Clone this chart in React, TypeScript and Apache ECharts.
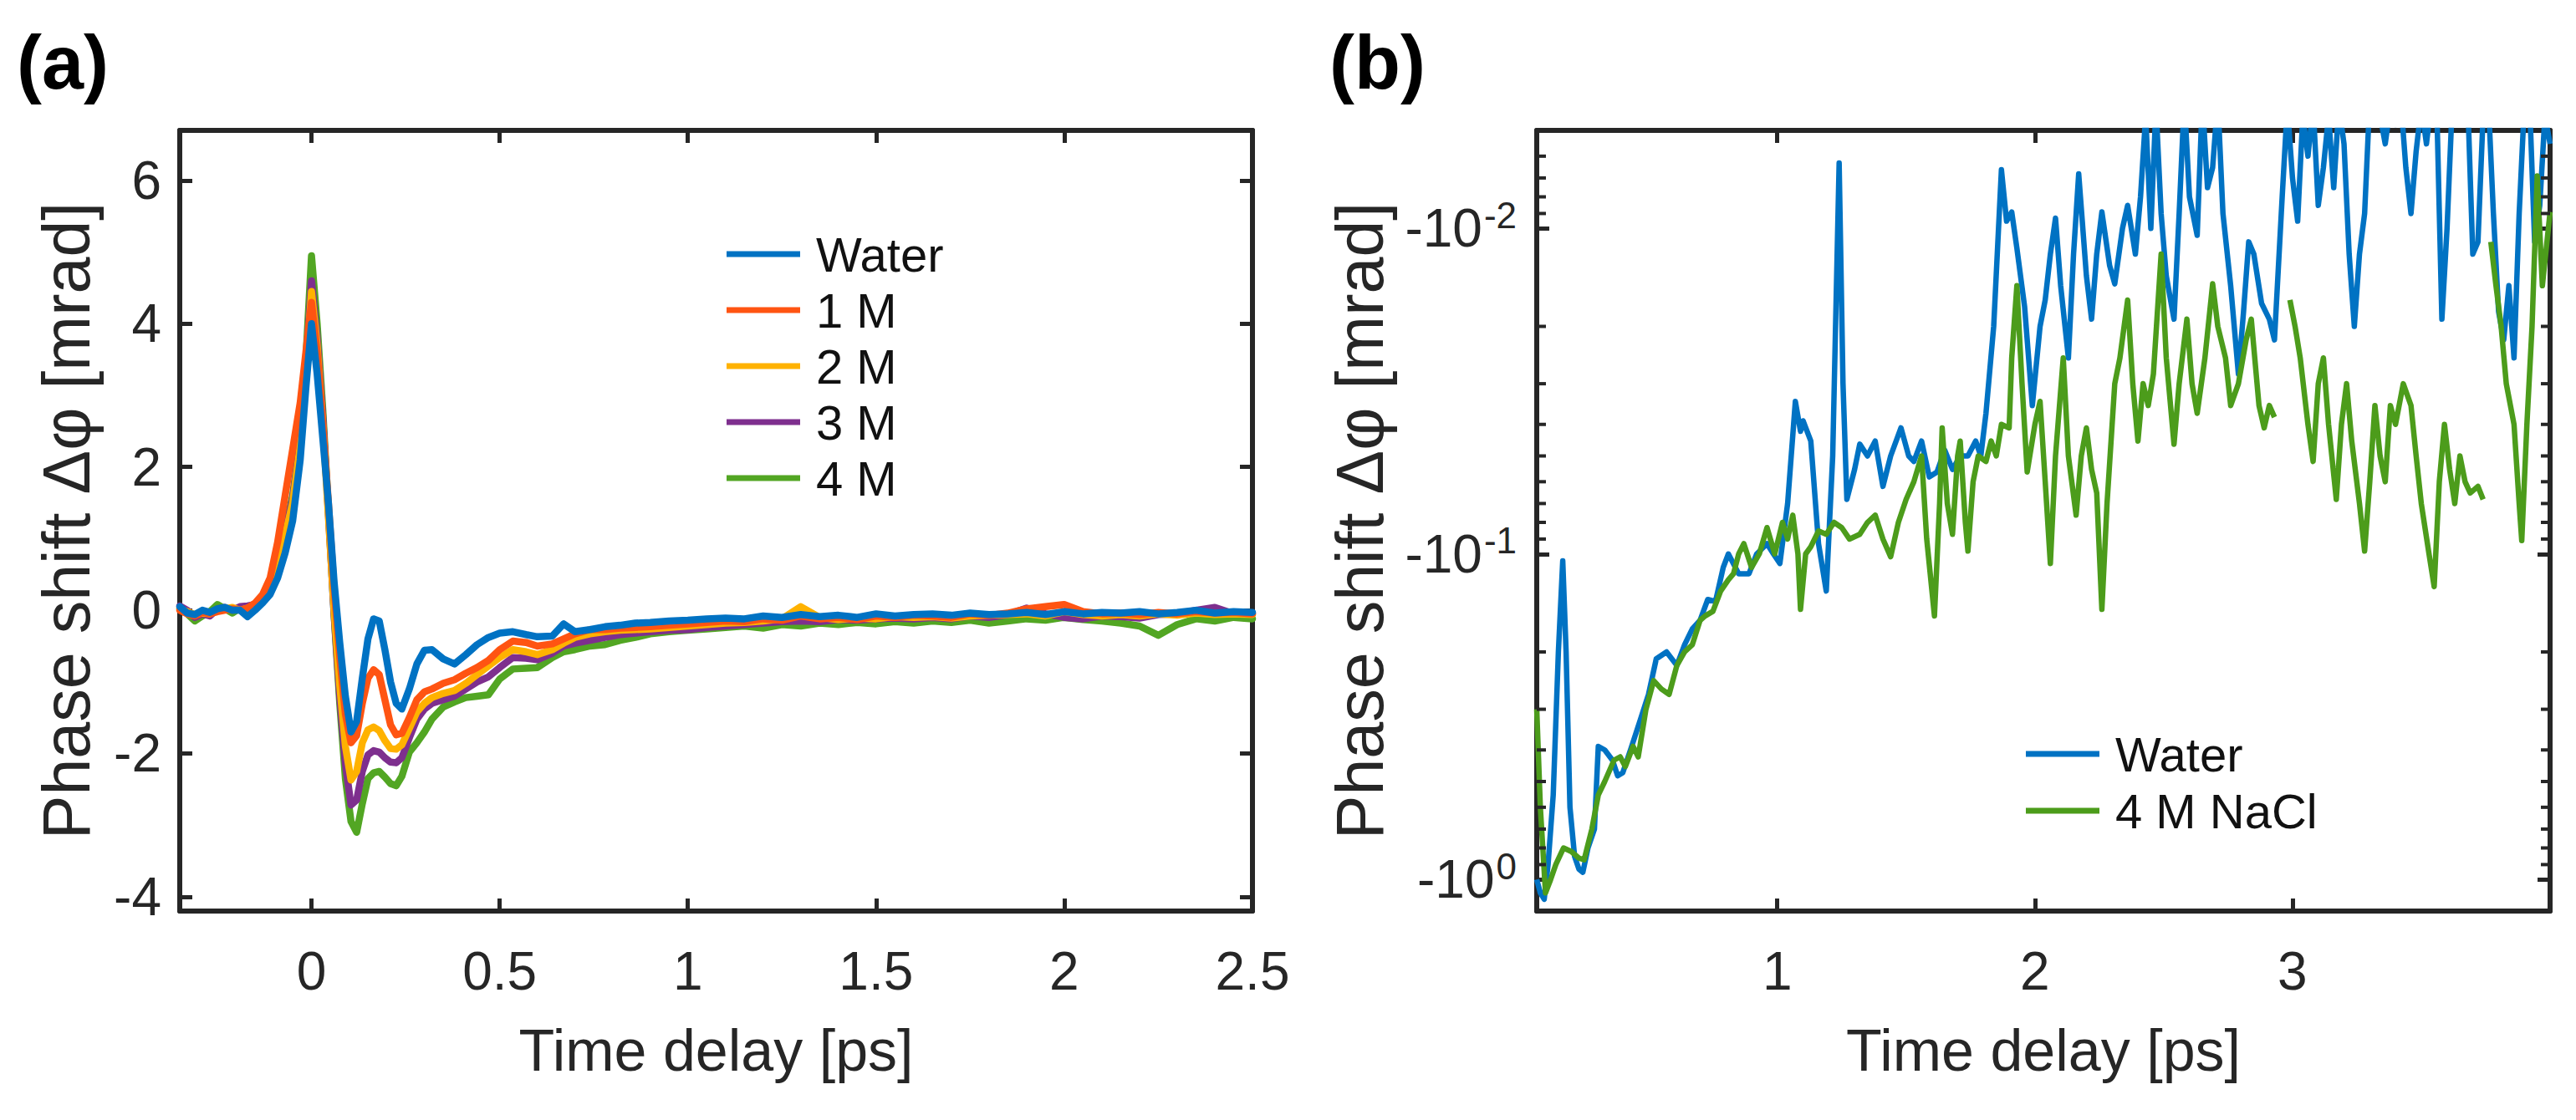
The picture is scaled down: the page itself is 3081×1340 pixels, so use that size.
import React, { useEffect, useRef } from "react";
import * as echarts from "echarts";

const FONT = '"Liberation Sans", Arial, Helvetica, sans-serif';
const INK = "#262626";

// ---------- Panel (a): phase shift vs time delay ----------
const T_A = [
  -0.35, -0.33, -0.31, -0.29, -0.27, -0.25, -0.23, -0.21, -0.19, -0.17,
  -0.15, -0.13, -0.11, -0.09, -0.07, -0.05, -0.03, -0.015, 0, 0.015,
  0.03, 0.045, 0.06, 0.075, 0.09, 0.105, 0.12, 0.135, 0.15, 0.165,
  0.18, 0.195, 0.21, 0.225, 0.24, 0.26, 0.28, 0.3, 0.32, 0.35,
  0.38, 0.41, 0.44, 0.47, 0.5, 0.535, 0.57, 0.6, 0.64, 0.67,
  0.7, 0.74, 0.78, 0.82, 0.86, 0.9, 0.95, 1.0, 1.05, 1.1,
  1.15, 1.2, 1.25, 1.3, 1.35, 1.4, 1.45, 1.5, 1.55, 1.6,
  1.65, 1.7, 1.75, 1.8, 1.85, 1.9, 1.95, 2.0, 2.05, 2.1,
  2.15, 2.2, 2.25, 2.3, 2.35, 2.4, 2.45, 2.5,
];

const WATER_A = [
  0.05, -0.04, -0.06, 0.0, -0.03, 0.02, 0.04, 0.0, 0.0, -0.09,
  0.0, 0.1, 0.22, 0.45, 0.8, 1.25, 2.1, 3.1, 4.0, 3.3,
  2.4, 1.5, 0.4, -0.45, -1.2, -1.7, -1.55, -0.95, -0.4, -0.12,
  -0.15, -0.55, -1.0, -1.3, -1.38, -1.1, -0.75, -0.56, -0.55, -0.68,
  -0.75, -0.62, -0.48, -0.38, -0.32, -0.3, -0.34, -0.37, -0.36, -0.19,
  -0.3, -0.27, -0.23, -0.21, -0.18, -0.17, -0.15, -0.14, -0.12, -0.11,
  -0.12, -0.08, -0.1, -0.06, -0.09, -0.07, -0.1, -0.05, -0.08, -0.06,
  -0.05, -0.07, -0.04, -0.06, -0.05, -0.03, -0.06, -0.02, -0.05, -0.03,
  -0.04, -0.02, -0.05, -0.03, 0.0, -0.04, -0.02, -0.03,
];

const M1_A = [
  0.0, -0.05, -0.08, -0.03, -0.05, -0.02, 0.0, 0.02, 0.0, 0.03,
  0.1, 0.22, 0.45, 0.95, 1.6, 2.25, 2.9, 3.6, 4.3, 3.6,
  2.6, 1.5, 0.3, -0.65, -1.45, -1.85, -1.75, -1.3, -0.95, -0.83,
  -0.9, -1.25, -1.6, -1.74, -1.72, -1.5, -1.25, -1.14, -1.1, -1.02,
  -0.97, -0.88, -0.8, -0.7, -0.55, -0.43, -0.45, -0.5, -0.47, -0.4,
  -0.33, -0.27, -0.27, -0.25, -0.24, -0.23, -0.21, -0.19, -0.17, -0.15,
  -0.16, -0.12, -0.14, -0.08, -0.12, -0.1, -0.13, -0.08, -0.1, -0.07,
  -0.08, -0.1, -0.05, -0.07, -0.04, 0.02, 0.05, 0.08, -0.02, -0.05,
  -0.04, -0.06, -0.03, -0.05, -0.02, -0.04, -0.03, -0.05,
];

const M2_A = [
  0.02, -0.02, -0.06, -0.04, -0.05, 0.0, 0.02, 0.04, 0.0, 0.03,
  0.06, 0.15, 0.3, 0.65, 1.05, 1.5, 2.3, 3.3, 4.45, 3.7,
  2.6, 1.3, 0.0, -1.05, -1.9, -2.37, -2.25, -1.85, -1.67, -1.63,
  -1.68, -1.82, -1.93, -1.94, -1.88, -1.65, -1.42, -1.3, -1.22, -1.16,
  -1.12, -1.02, -0.9, -0.78, -0.66, -0.55, -0.58, -0.62, -0.55, -0.46,
  -0.38, -0.33, -0.3, -0.28, -0.27, -0.26, -0.24, -0.22, -0.2, -0.18,
  -0.17, -0.15, -0.12, 0.05, -0.1, -0.13, -0.11, -0.12, -0.09, -0.1,
  -0.09, -0.11, -0.08, -0.07, -0.06, -0.05, -0.08, -0.02, -0.06, -0.08,
  -0.06, -0.08, -0.05, -0.07, -0.04, -0.06, -0.05, -0.06,
];

const M3_A = [
  0.06, 0.0, -0.1, -0.05, -0.08, 0.02, 0.04, 0.0, 0.05, 0.06,
  0.08, 0.16, 0.32, 0.7, 1.1, 1.55, 2.35, 3.4, 4.6, 3.8,
  2.7, 1.35, -0.05, -1.2, -2.15, -2.72, -2.65, -2.25, -2.02, -1.96,
  -1.98, -2.06, -2.12, -2.13, -2.06, -1.78, -1.52, -1.38, -1.3, -1.25,
  -1.2, -1.1, -1.0, -0.93, -0.8, -0.66, -0.67, -0.69, -0.6, -0.5,
  -0.46, -0.42, -0.38, -0.34, -0.32, -0.3, -0.28, -0.27, -0.24, -0.22,
  -0.2, -0.18, -0.16, -0.15, -0.16, -0.13, -0.14, -0.12, -0.11, -0.12,
  -0.1, -0.12, -0.08, -0.1, -0.06, 0.03, -0.05, -0.1, -0.12, -0.08,
  -0.09, -0.11, -0.06, -0.05, 0.0, 0.04, -0.05, -0.04,
];

const M4_A = [
  0.03, -0.05, -0.15, -0.08, -0.02, 0.08, 0.02, -0.04, 0.03, 0.05,
  0.08, 0.17, 0.35, 0.72, 1.12, 1.6, 2.4, 3.5, 4.95, 4.0,
  2.8, 1.4, -0.05, -1.3, -2.35, -2.95, -3.1, -2.7, -2.35, -2.27,
  -2.25, -2.33, -2.42, -2.45, -2.32, -1.98, -1.85, -1.7, -1.52, -1.35,
  -1.28, -1.22, -1.2, -1.18, -0.96, -0.82, -0.81, -0.8, -0.66, -0.58,
  -0.55, -0.5, -0.48, -0.42, -0.38, -0.33, -0.3, -0.28, -0.26, -0.24,
  -0.22, -0.25, -0.2, -0.22, -0.18, -0.2, -0.17, -0.19, -0.16, -0.18,
  -0.15, -0.17, -0.14, -0.18, -0.15, -0.12, -0.14, -0.1, -0.13, -0.15,
  -0.18, -0.22, -0.35, -0.2, -0.12, -0.15, -0.1, -0.12,
];

const NAMES_A = ["Water", "1 M", "2 M", "3 M", "4 M"];
const COLORS_A = ["#0072C3", "#FF5412", "#FFB200", "#7E2F8E", "#52A623"];

const X_RANGE_A = [-0.35, 2.5];
const Y_RANGE_A = [-4.2, 6.7];

// ---------- Panel (b): |phase shift| on a log scale (negative values) ----------
// pairs [time delay (ps), magnitude of the (negative) phase shift (mrad)]
const WATER_B: [number, number | null][] = [
  [0.066, 1.0], [0.08, 1.1], [0.095, 1.15], [0.11, 0.9], [0.13, 0.55], [0.15, 0.2], [0.167, 0.105],
  [0.18, 0.2], [0.195, 0.6], [0.213, 0.85], [0.23, 0.93], [0.245, 0.95], [0.265, 0.8], [0.29, 0.7],
  [0.305, 0.39], [0.33, 0.4], [0.36, 0.43], [0.38, 0.48], [0.4, 0.47], [0.43, 0.4], [0.47, 0.32],
  [0.5, 0.27], [0.53, 0.21], [0.57, 0.2], [0.61, 0.22], [0.64, 0.19], [0.67, 0.17], [0.7, 0.16],
  [0.73, 0.138], [0.76, 0.14], [0.79, 0.11], [0.81, 0.1], [0.85, 0.115], [0.89, 0.115], [0.92, 0.1],
  [0.96, 0.093], [0.985, 0.1], [1.01, 0.107], [1.04, 0.07], [1.07, 0.034], [1.09, 0.042], [1.1, 0.039],
  [1.13, 0.045], [1.16, 0.093], [1.19, 0.13], [1.215, 0.05], [1.24, 0.0063], [1.255, 0.03], [1.27, 0.068],
  [1.3, 0.055], [1.32, 0.046], [1.35, 0.05], [1.38, 0.045], [1.41, 0.062], [1.44, 0.05], [1.48, 0.041],
  [1.51, 0.05], [1.53, 0.052], [1.56, 0.045], [1.59, 0.058], [1.62, 0.056], [1.65, 0.048], [1.68, 0.055],
  [1.71, 0.05], [1.74, 0.05], [1.77, 0.045], [1.79, 0.05], [1.81, 0.037], [1.84, 0.02], [1.87, 0.0066],
  [1.89, 0.0095], [1.91, 0.0089], [1.93, 0.0115], [1.96, 0.0174], [1.99, 0.035], [2.02, 0.02], [2.04, 0.0166],
  [2.06, 0.012], [2.08, 0.0093], [2.1, 0.015], [2.13, 0.025], [2.15, 0.012], [2.17, 0.0068], [2.2, 0.014],
  [2.22, 0.019], [2.24, 0.012], [2.26, 0.0089], [2.29, 0.013], [2.31, 0.0148], [2.34, 0.01], [2.36, 0.0085],
  [2.39, 0.012], [2.41, 0.008], [2.43, 0.0045], [2.45, 0.01], [2.47, 0.0042], [2.49, 0.009], [2.51, 0.014],
  [2.54, 0.019], [2.56, 0.009], [2.58, 0.004], [2.6, 0.008], [2.63, 0.0105], [2.65, 0.004], [2.67, 0.0075],
  [2.69, 0.0065], [2.71, 0.004], [2.73, 0.009], [2.76, 0.015], [2.79, 0.028], [2.81, 0.018], [2.83, 0.011],
  [2.85, 0.012], [2.88, 0.017], [2.91, 0.019], [2.93, 0.022], [2.96, 0.008], [2.98, 0.0042], [3.0, 0.007],
  [3.02, 0.0095], [3.04, 0.0045], [3.06, 0.006], [3.08, 0.0042], [3.1, 0.0085], [3.12, 0.0065], [3.14, 0.0045],
  [3.16, 0.0075], [3.18, 0.0042], [3.2, 0.0055], [3.22, 0.012], [3.24, 0.02], [3.26, 0.012], [3.28, 0.009],
  [3.3, 0.004], [3.32, 0.0042], [3.34, 0.0045], [3.36, 0.0055], [3.38, 0.0042], [3.4, 0.0048], [3.42, 0.004],
  [3.44, 0.0065], [3.46, 0.009], [3.48, 0.0058], [3.5, 0.0042], [3.52, 0.0055], [3.54, 0.004], [3.56, 0.0042],
  [3.58, 0.019], [3.6, 0.01], [3.62, 0.0042], [3.64, 0.0042], [3.66, 0.0045], [3.68, 0.004], [3.7, 0.012],
  [3.72, 0.011], [3.74, 0.0045], [3.76, 0.004], [3.78, 0.009], [3.8, 0.018], [3.82, 0.022], [3.84, 0.015],
  [3.86, 0.025], [3.88, 0.009], [3.9, 0.0042], [3.92, 0.004], [3.94, 0.011], [3.96, 0.0085], [3.98, 0.0045],
  [4.0, 0.0055],
];

const NACL_B: [number, number | null][] = [
  [0.066, 0.3], [0.08, 0.6], [0.1, 1.1], [0.12, 1.0], [0.14, 0.9], [0.17, 0.8], [0.2, 0.82], [0.23, 0.86],
  [0.25, 0.87], [0.28, 0.7], [0.305, 0.55], [0.33, 0.5], [0.366, 0.43], [0.39, 0.42], [0.41, 0.45], [0.44, 0.39],
  [0.46, 0.42], [0.49, 0.3], [0.52, 0.245], [0.55, 0.26], [0.58, 0.27], [0.61, 0.22], [0.64, 0.2], [0.67, 0.19],
  [0.7, 0.16], [0.72, 0.155], [0.75, 0.15], [0.78, 0.13], [0.81, 0.12], [0.83, 0.115], [0.85, 0.1], [0.87, 0.093],
  [0.9, 0.11], [0.93, 0.1], [0.96, 0.083], [0.99, 0.1], [1.02, 0.08], [1.04, 0.09], [1.06, 0.076], [1.08, 0.1],
  [1.09, 0.148], [1.11, 0.1], [1.13, 0.095], [1.16, 0.085], [1.19, 0.087], [1.22, 0.08], [1.25, 0.083], [1.28, 0.09],
  [1.32, 0.087], [1.35, 0.08], [1.38, 0.076], [1.41, 0.09], [1.44, 0.102], [1.47, 0.08], [1.5, 0.068], [1.53, 0.06],
  [1.56, 0.05], [1.58, 0.09], [1.61, 0.155], [1.63, 0.07], [1.64, 0.041], [1.66, 0.07], [1.68, 0.087], [1.7, 0.05],
  [1.71, 0.045], [1.73, 0.08], [1.74, 0.098], [1.76, 0.06], [1.78, 0.05], [1.81, 0.052], [1.83, 0.045], [1.85, 0.05],
  [1.87, 0.04], [1.9, 0.041], [1.91, 0.025], [1.93, 0.015], [1.95, 0.03], [1.97, 0.056], [2.0, 0.04], [2.02, 0.034],
  [2.04, 0.06], [2.06, 0.107], [2.08, 0.05], [2.11, 0.025], [2.13, 0.05], [2.16, 0.076], [2.18, 0.05], [2.2, 0.041],
  [2.22, 0.055], [2.24, 0.065], [2.26, 0.148], [2.28, 0.07], [2.31, 0.03], [2.33, 0.025], [2.36, 0.0166], [2.38, 0.03],
  [2.4, 0.045], [2.42, 0.03], [2.44, 0.035], [2.46, 0.028], [2.49, 0.012], [2.51, 0.025], [2.54, 0.046], [2.56, 0.03],
  [2.59, 0.019], [2.61, 0.03], [2.63, 0.037], [2.66, 0.025], [2.69, 0.0148], [2.71, 0.02], [2.74, 0.025], [2.76, 0.035],
  [2.79, 0.03], [2.82, 0.022], [2.84, 0.019], [2.87, 0.035], [2.89, 0.041], [2.91, 0.035], [2.93, 0.038], [2.95, null],
  [2.99, 0.0166], [3.01, 0.02], [3.03, 0.025], [3.06, 0.04], [3.08, 0.052], [3.1, 0.03], [3.12, 0.025], [3.14, 0.04],
  [3.17, 0.068], [3.19, 0.04], [3.21, 0.03], [3.23, 0.045], [3.26, 0.07], [3.28, 0.098], [3.3, 0.06], [3.32, 0.035],
  [3.34, 0.05], [3.36, 0.06], [3.38, 0.035], [3.4, 0.04], [3.43, 0.03], [3.46, 0.035], [3.48, 0.05], [3.5, 0.07],
  [3.53, 0.1], [3.55, 0.126], [3.57, 0.06], [3.59, 0.04], [3.61, 0.055], [3.63, 0.07], [3.65, 0.05], [3.67, 0.06],
  [3.69, 0.065], [3.72, 0.062], [3.74, 0.068], [3.76, null], [3.77, 0.011], [3.79, 0.015], [3.81, 0.02], [3.83, 0.03],
  [3.86, 0.04], [3.88, 0.07], [3.89, 0.091], [3.91, 0.04], [3.93, 0.02], [3.95, 0.0069], [3.97, 0.015], [4.0, 0.0089],
];

const NAMES_B = ["Water", "4 M NaCl"];
const COLORS_B = ["#0072C3", "#4C9C1B"];

const X_RANGE_B = [0.066, 4.0];
const Y_RANGE_B = [0.005, 1.25];
const MINOR_B = [
  0.006, 0.007, 0.008, 0.009,
  0.02, 0.03, 0.04, 0.05, 0.06, 0.07, 0.08, 0.09,
  0.2, 0.3, 0.4, 0.5, 0.6, 0.7, 0.8, 0.9,
];

// ---------- layout ----------
const GRID_A = { left: 215, top: 156, width: 1283, height: 934 };
const GRID_B = { left: 1838, top: 156, width: 1212, height: 934 };

const axisLine = { show: true, onZero: false, lineStyle: { color: INK, width: 6 } };
const axisTick = { show: true, inside: true, length: 15, lineStyle: { color: INK, width: 5 } };
const tickFont = { fontSize: 64, color: INK, fontFamily: FONT };
const xNameFont = { fontSize: 70, color: INK, fontFamily: FONT };
const yNameFont = { fontSize: 79, color: INK, fontFamily: FONT };
const legendText = { fontSize: 58, lineHeight: 58, color: "#111", fontFamily: FONT, padding: [0, 0, 0, 14] };
const panelFont = 'bold 90px "Liberation Sans Narrow", "Liberation Sans", sans-serif';

function App() {
  const ref = useRef<HTMLDivElement>(null);

  useEffect(() => {
    document.body.style.margin = "0";
    if (!ref.current) return;
    const chart = echarts.init(ref.current, null, { renderer: "svg" });

    const seriesA = [4, 3, 2, 1, 0].map((k) => {
      const vals = [WATER_A, M1_A, M2_A, M3_A, M4_A][k];
      return {
        type: "line",
        name: NAMES_A[k],
        xAxisIndex: 0,
        yAxisIndex: 0,
        data: T_A.map((t, i) => [t, vals[i]]),
        showSymbol: false,
        symbol: "none",
        lineStyle: { width: 8.5, color: COLORS_A[k], join: "round", cap: "round" },
        itemStyle: { color: COLORS_A[k] },
        clip: true,
      };
    });

    const seriesB = [WATER_B, NACL_B].map((d, k) => ({
      type: "line",
      name: NAMES_B[k],
      xAxisIndex: 2,
      yAxisIndex: 2,
      data: d,
      showSymbol: false,
      symbol: "none",
      connectNulls: false,
      lineStyle: { width: 6.5, color: COLORS_B[k], join: "round" },
      itemStyle: { color: COLORS_B[k] },
      clip: true,
    }));

    const minorTicks = {
      type: "custom",
      xAxisIndex: 2,
      yAxisIndex: 2,
      silent: true,
      z: 5,
      data: MINOR_B.map((v) => [X_RANGE_B[0], v]),
      renderItem: (params: any, api: any) => {
        const cs = params.coordSys;
        const y = api.coord([api.value(0), api.value(1)])[1];
        const st = { stroke: INK, lineWidth: 4 };
        return {
          type: "group",
          children: [
            { type: "line", shape: { x1: cs.x, y1: y, x2: cs.x + 11, y2: y }, style: st },
            { type: "line", shape: { x1: cs.x + cs.width, y1: y, x2: cs.x + cs.width - 11, y2: y }, style: st },
          ],
        };
      },
    };

    const logLabel = (v: number) => {
      const e = Math.round(Math.log10(v));
      return `{m|-10}{e|${e}}`;
    };

    const option: any = {
      animation: false,
      backgroundColor: "#ffffff",
      grid: [
        { ...GRID_A, containLabel: false },
        { ...GRID_B, containLabel: false },
      ],
      xAxis: [
        {
          gridIndex: 0, type: "value", position: "bottom",
          min: X_RANGE_A[0], max: X_RANGE_A[1], splitNumber: 6,
          axisLine, axisTick, splitLine: { show: false },
          axisLabel: { ...tickFont, margin: 40, showMinLabel: false, showMaxLabel: true },
          name: "Time delay [ps]", nameLocation: "middle", nameGap: 132, nameTextStyle: xNameFont,
        },
        {
          gridIndex: 0, type: "value", position: "top",
          min: X_RANGE_A[0], max: X_RANGE_A[1], splitNumber: 6,
          axisLine, axisTick, splitLine: { show: false }, axisLabel: { show: false },
        },
        {
          gridIndex: 1, type: "value", position: "bottom",
          min: X_RANGE_B[0], max: X_RANGE_B[1], splitNumber: 5,
          axisLine, axisTick, splitLine: { show: false },
          axisLabel: { ...tickFont, margin: 40, showMinLabel: false, showMaxLabel: false },
          name: "Time delay [ps]", nameLocation: "middle", nameGap: 132, nameTextStyle: xNameFont,
        },
        {
          gridIndex: 1, type: "value", position: "top",
          min: X_RANGE_B[0], max: X_RANGE_B[1], splitNumber: 5,
          axisLine, axisTick, splitLine: { show: false }, axisLabel: { show: false },
        },
      ],
      yAxis: [
        {
          gridIndex: 0, type: "value", position: "left",
          min: Y_RANGE_A[0], max: Y_RANGE_A[1], splitNumber: 5,
          axisLine, axisTick, splitLine: { show: false },
          axisLabel: { ...tickFont, margin: 22, showMinLabel: false, showMaxLabel: false },
          name: "Phase shift Δφ [mrad]", nameLocation: "middle", nameGap: 96, nameRotate: 90,
          nameTextStyle: yNameFont,
        },
        {
          gridIndex: 0, type: "value", position: "right",
          min: Y_RANGE_A[0], max: Y_RANGE_A[1], splitNumber: 5,
          axisLine, axisTick, splitLine: { show: false }, axisLabel: { show: false },
        },
        {
          gridIndex: 1, type: "log", logBase: 10, position: "left", inverse: true,
          min: Y_RANGE_B[0], max: Y_RANGE_B[1],
          axisLine, axisTick, splitLine: { show: false }, minorTick: { show: false },
          axisLabel: {
            ...tickFont, margin: 24, showMinLabel: false, showMaxLabel: false,
            formatter: logLabel,
            rich: {
              m: { fontSize: 64, color: INK, fontFamily: FONT },
              e: { fontSize: 44, color: INK, fontFamily: FONT, padding: [0, 0, 32, 2] },
            },
          },
          name: "Phase shift Δφ [mrad]", nameLocation: "middle", nameGap: 172, nameRotate: 90,
          nameTextStyle: yNameFont,
        },
        {
          gridIndex: 1, type: "log", logBase: 10, position: "right", inverse: true,
          min: Y_RANGE_B[0], max: Y_RANGE_B[1],
          axisLine, axisTick, splitLine: { show: false }, axisLabel: { show: false },
        },
      ],
      legend: [
        {
          data: NAMES_A, orient: "vertical", left: 864, top: 270,
          icon: "rect", itemWidth: 88, itemHeight: 7, itemGap: 9, selectedMode: false,
          textStyle: legendText,
        },
        {
          data: NAMES_B, orient: "vertical", left: 2418, top: 868,
          icon: "rect", itemWidth: 88, itemHeight: 7, itemGap: 10, selectedMode: false,
          textStyle: legendText,
        },
      ],
      graphic: [
        { type: "text", left: 20, top: 30, style: { text: "(a)", font: panelFont, fill: "#000" } },
        { type: "text", left: 1590, top: 30, style: { text: "(b)", font: panelFont, fill: "#000" } },
      ],
      series: [...seriesA, ...seriesB, minorTicks],
    };

    chart.setOption(option);
    return () => chart.dispose();
  }, []);

  return <div ref={ref} style={{ width: 3081, height: 1340 }} />;
}

export default App;
